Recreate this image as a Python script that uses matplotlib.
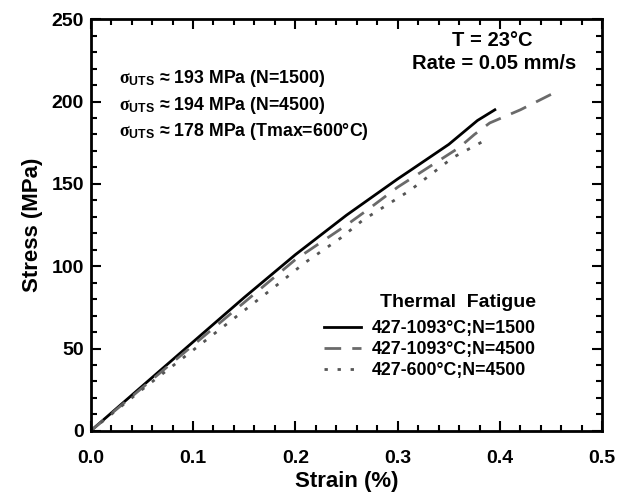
import matplotlib
matplotlib.use("Agg")
import matplotlib.pyplot as plt
from matplotlib.ticker import MultipleLocator, FormatStrFormatter

plt.rcParams['font.family'] = ['Liberation Sans', 'DejaVu Sans']
plt.rcParams['font.weight'] = 'bold'
plt.rcParams['mathtext.fontset'] = 'custom'
plt.rcParams['mathtext.rm'] = 'Liberation Serif'
plt.rcParams['mathtext.it'] = 'Liberation Serif'
plt.rcParams['mathtext.bf'] = 'Liberation Sans:bold'

# Data
strain_1500 = [0, 0.05, 0.10, 0.15, 0.20, 0.25, 0.30, 0.312, 0.35, 0.378, 0.395]
stress_1500 = [0, 27, 54, 81, 107, 131, 153, 158, 174, 188.5, 195]

strain_4500 = [0, 0.05, 0.10, 0.15, 0.20, 0.25, 0.27, 0.30, 0.33, 0.36, 0.375, 0.39, 0.42, 0.452]
stress_4500 = [0, 26, 52, 78, 104, 125, 134, 148, 160, 172, 180, 187, 195, 205]

strain_600 = [0, 0.05, 0.10, 0.129, 0.185, 0.209, 0.244, 0.266, 0.312, 0.354, 0.39]
stress_600 = [0, 25, 49, 63, 90, 102, 117, 128, 146, 166, 178]

labels = ['427-1093°C;N=1500', '427-1093°C;N=4500', '427-600°C;N=4500']
uts_lines = [r'$\mathrm{\sigma}_{\mathbf{UTS}}$ ≈ 193 MPa (N=1500)',
             r'$\mathrm{\sigma}_{\mathbf{UTS}}$ ≈ 194 MPa (N=4500)',
             r'$\mathrm{\sigma}_{\mathbf{UTS}}$ ≈ 178 MPa (Tmax=600°C)']

fig = plt.figure(figsize=(6.3, 4.93), dpi=100)
ax = fig.add_axes([0.144, 0.126, 0.812, 0.835])

ax.plot(strain_1500, stress_1500, color='black', lw=2.0, label=labels[0])
ax.plot(strain_4500, stress_4500, color='#6a6a6a', lw=2.0, dashes=(6, 4), label=labels[1])
ax.plot(strain_600, stress_600, color='#555555', lw=2.0, dashes=(1.2, 3.5), label=labels[2])

ax.set_xlim(0, 0.5)
ax.set_ylim(0, 250)
ax.xaxis.set_major_locator(MultipleLocator(0.1))
ax.xaxis.set_minor_locator(MultipleLocator(0.02))
ax.yaxis.set_major_locator(MultipleLocator(50))
ax.yaxis.set_minor_locator(MultipleLocator(10))
ax.xaxis.set_major_formatter(FormatStrFormatter('%.1f'))
ax.tick_params(which='both', direction='in', top=True, right=True, width=1.5)
ax.tick_params(which='major', length=7, labelsize=14, pad=5)
ax.tick_params(axis='x', which='major', pad=14)
ax.tick_params(which='minor', length=4)
for s in ax.spines.values():
    s.set_linewidth(2)

ax.set_xlabel('Strain (%)', fontsize=16, fontweight='bold', labelpad=3)
ax.set_ylabel('Stress (MPa)', fontsize=16, fontweight='bold', labelpad=6)

ax.text(0.785, 0.949, 'T = 23°C', transform=ax.transAxes, ha='center', va='center',
        fontsize=14.5, fontweight='bold')
ax.text(0.789, 0.893, 'Rate = 0.05 mm/s', transform=ax.transAxes, ha='center', va='center',
        fontsize=14.5, fontweight='bold')

for i, t in enumerate(uts_lines):
    ax.text(0.055, 0.855 - i * 0.064, t, transform=ax.transAxes, ha='left', va='center',
            fontsize=12.8, fontweight='bold')

leg = ax.legend(loc='lower right', bbox_to_anchor=(0.884, 0.108), frameon=False,
                title='Thermal  Fatigue', fontsize=12.8, handlelength=2.1,
                labelspacing=0.22, handletextpad=0.6, borderaxespad=0,
                alignment='right')
leg.get_title().set_fontweight('bold')
leg.get_title().set_fontsize(14)
leg._legend_box.sep = 7

fig.savefig('out.png', dpi=100)
